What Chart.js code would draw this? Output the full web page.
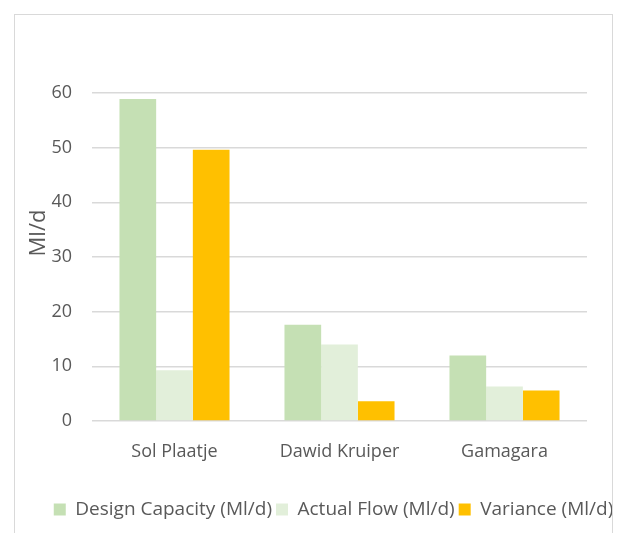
<!DOCTYPE html>
<html>
<head>
<meta charset="utf-8">
<script src="https://cdn.jsdelivr.net/npm/chart.js"></script>
<style>
    html, body { margin: 0; padding: 0; background: #ffffff; overflow: hidden; }
    #frame {
        position: absolute; left: 14px; top: 14px;
        width: 597px; height: 540px;
        border: 1px solid #d9d9d9;
    }
    #box { position: absolute; left: 0; top: 0; width: 597px; height: 518px; }
</style>
</head>
<body>
<div id="frame"><div id="box"><canvas id="chart"></canvas></div></div>
<script>
// Values
const plants = ['Sol Plaatje', 'Dawid Kruiper', 'Gamagara'];
const designCapacity = [58.9, 17.6, 12.0];
const actualFlow = [9.3, 14.0, 6.3];
const variance = [49.6, 3.6, 5.6];
const yTicks = [0, 10, 20, 30, 40, 50, 60];

const textColor = '#595959';
const fontFamily = '"Open Sans", sans-serif';

// y axis title sits a bit above the plot centre in the original, so draw it by hand
const yTitle = {
    id: 'yTitle',
    afterDraw(chart) {
        const ctx = chart.ctx;
        ctx.save();
        ctx.translate(24, 218);
        ctx.rotate(-Math.PI / 2);
        ctx.font = '22px ' + fontFamily;
        ctx.fillStyle = textColor;
        ctx.textAlign = 'center';
        ctx.textBaseline = 'middle';
        ctx.fillText('Ml/d', 0, 0);
        ctx.restore();
    }
};

// the legend in the original is pushed to the right, up against the frame
const shiftLegend = {
    id: 'shiftLegend',
    afterLayout(chart) {
        chart.legend.left += 20;
        chart.legend.right += 20;
    }
};

const ctx = document.getElementById('chart').getContext('2d');

new Chart(ctx, {
    type: 'bar',
    data: {
        labels: plants,
        datasets: [
            { label: 'Design Capacity (Ml/d)', data: designCapacity, backgroundColor: '#c5e0b4' },
            { label: 'Actual Flow (Ml/d)', data: actualFlow, backgroundColor: '#e2efda' },
            { label: 'Variance (Ml/d)', data: variance, backgroundColor: '#ffc000' }
        ]
    },
    options: {
        responsive: true,
        maintainAspectRatio: false,
        animation: false,
        layout: { padding: { top: 78, right: 0, bottom: 4, left: 0 } },
        datasets: {
            bar: { categoryPercentage: 0.667, barPercentage: 1.0 }
        },
        scales: {
            x: {
                grid: { display: false },
                border: { display: false },
                ticks: {
                    color: textColor,
                    font: { family: fontFamily, size: 18 },
                    padding: 12
                },
                afterFit: (s) => { s.height = 75; }
            },
            y: {
                min: 0,
                max: 60,
                afterBuildTicks: (s) => { s.ticks = yTicks.map(v => ({ value: v })); },
                grid: { color: '#d9d9d9', lineWidth: 1.5, drawTicks: false },
                border: { display: false },
                ticks: {
                    color: textColor,
                    font: { family: fontFamily, size: 18 },
                    padding: 20
                },
                afterFit: (s) => { s.width = 77; }
            },
            // empty axis on the right, only keeps the plot away from the frame
            yRight: {
                position: 'right',
                grid: { display: false },
                border: { display: false },
                ticks: { display: false },
                afterFit: (s) => { s.width = 25; }
            }
        },
        plugins: {
            legend: {
                position: 'bottom',
                labels: {
                    boxWidth: 12,
                    boxHeight: 12,
                    padding: 4,
                    color: textColor,
                    font: { family: fontFamily, size: 19 }
                }
            },
            tooltip: { enabled: false }
        }
    },
    plugins: [yTitle, shiftLegend]
});
</script>
</body>
</html>
